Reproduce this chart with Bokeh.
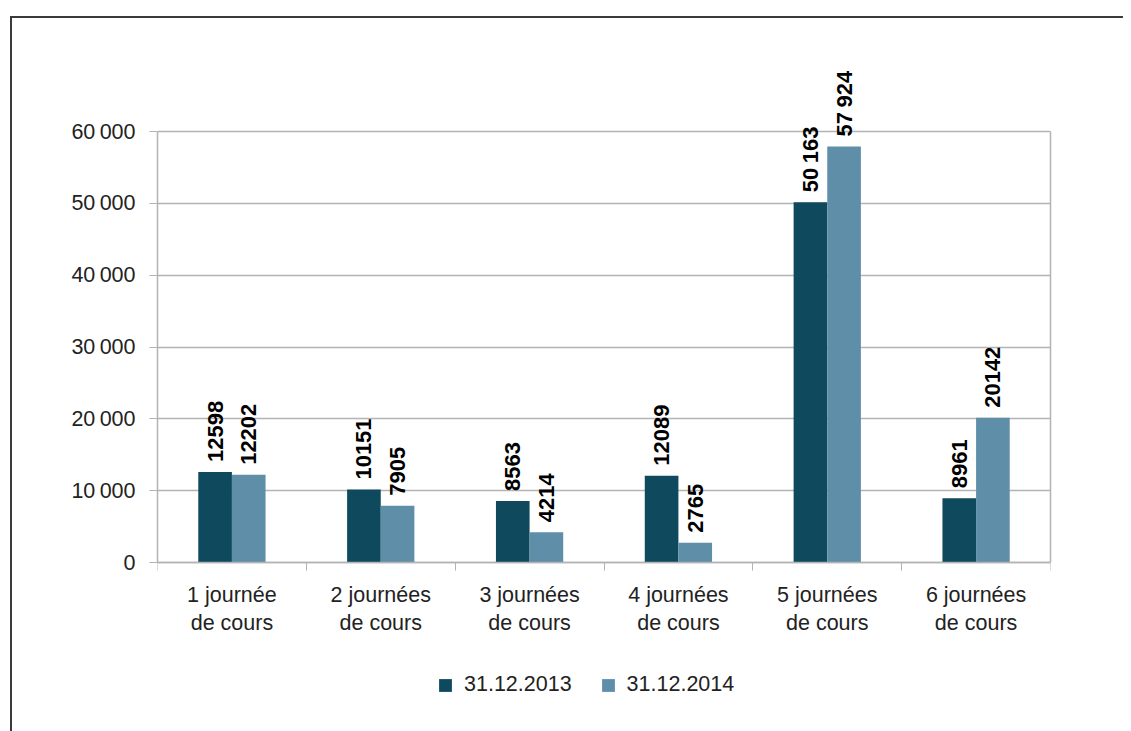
import numpy as np
from bokeh.plotting import figure
from bokeh.models import Range1d, FixedTicker, Legend, LegendItem, ColumnDataSource, LabelSet, LinearAxis
from bokeh.core.properties import value
from bokeh.embed import file_html
from bokeh.resources import INLINE

# ---- data ----
categories = ["1 journée\nde cours", "2 journées\nde cours", "3 journées\nde cours",
              "4 journées\nde cours", "5 journées\nde cours", "6 journées\nde cours"]
series_names = ["31.12.2013", "31.12.2014"]
values_2013 = [12598, 10151, 8563, 12089, 50163, 8961]
values_2014 = [12202, 7905, 4214, 2765, 57924, 20142]
labels_2013 = ["12598", "10151", "8563", "12089", "50\u2009163", "8961"]
labels_2014 = ["12202", "7905", "4214", "2765", "57\u2009924", "20142"]
y_ticks = [0, 10000, 20000, 30000, 40000, 50000, 60000]
y_tick_labels = ["0", "10\u2009000", "20\u2009000", "30\u2009000", "40\u2009000", "50\u2009000", "60\u2009000"]

DARK = "#0E495E"
LIGHT = "#5F8EA8"
GRID = "#B3B3B3"
TXT = "#222222"
FONT = "Liberation Sans"

# ---- layout (pixels) ----
y_max = y_ticks[-1]
plot_h = 431            # pixels from 0 to y_max
above_px = 72           # frame room above y_max for the value labels
below_px = 172          # frame room below 0 for category labels and legend
frame_h = plot_h + above_px + below_px
unit = y_max / plot_h   # data units per pixel
y_start = -below_px * unit
y_end = y_max + above_px * unit

centers = np.arange(len(categories)) + 0.5
bw = 0.226
off = 0.113

p = figure(frame_width=893, frame_height=frame_h,
           min_border_left=145, min_border_top=41, min_border_right=73, min_border_bottom=0,
           x_range=Range1d(0, len(categories)), y_range=Range1d(y_start, y_end),
           output_backend="svg", toolbar_location=None)
p.styles = {"margin-top": "16px", "margin-left": "10px",
            "border-top": "2px solid #3a3a3a", "border-left": "2px solid #3a3a3a"}

src13 = ColumnDataSource(dict(x=centers - off, top=values_2013, lab=labels_2013))
src14 = ColumnDataSource(dict(x=centers + off, top=values_2014, lab=labels_2014))

r1 = p.vbar(x="x", top="top", width=bw, bottom=0, source=src13,
            fill_color=DARK, line_color=DARK, line_width=0)
r2 = p.vbar(x="x", top="top", width=bw, bottom=0, source=src14,
            fill_color=LIGHT, line_color=LIGHT, line_width=0)

for src in (src13, src14):
    p.add_layout(LabelSet(x="x", y="top", text="lab", source=src, angle=np.pi / 2,
                          text_align="left", text_baseline="middle", y_offset=10,
                          text_font=value(FONT), text_font_style="bold",
                          text_font_size="22px", text_color="black"))

# x axis drawn at y = 0
p.xaxis.fixed_location = 0
p.xaxis.ticker = FixedTicker(ticks=list(centers), minor_ticks=list(range(len(categories) + 1)))
p.xaxis.major_label_overrides = {float(c): cat for c, cat in zip(centers, categories)}
p.xaxis.major_tick_line_color = None
p.xaxis.major_tick_out = 0
p.xaxis.major_tick_in = 0
p.xaxis.minor_tick_line_color = GRID
p.xaxis.minor_tick_out = 8
p.xaxis.minor_tick_in = 0
p.xaxis.major_label_standoff = 12

p.yaxis.ticker = FixedTicker(ticks=y_ticks)
p.yaxis.bounds = (0, y_max)
p.yaxis.major_label_overrides = {t: s for t, s in zip(y_ticks, y_tick_labels)}
p.yaxis.major_tick_out = 8
p.yaxis.major_tick_in = 0
p.yaxis.major_tick_line_color = GRID
p.yaxis.minor_tick_line_color = None
p.yaxis.major_label_standoff = 14

for ax in (p.xaxis, p.yaxis):
    ax.axis_line_color = GRID
    ax.axis_line_width = 1.5
    ax.major_label_text_font = FONT
    ax.major_label_text_font_size = "21.5px"
    ax.major_label_text_color = TXT

# right border of the plot area
right_ax = LinearAxis(ticker=FixedTicker(ticks=[]), bounds=(0, y_max),
                      axis_line_color=GRID, axis_line_width=1.5,
                      major_tick_line_color=None, minor_tick_line_color=None)
p.add_layout(right_ax, "right")

p.xgrid.visible = False
p.ygrid.ticker = FixedTicker(ticks=y_ticks)
p.ygrid.grid_line_color = GRID
p.ygrid.grid_line_width = 1.5

p.outline_line_color = None
p.background_fill_color = "white"
p.border_fill_color = "white"

legend = Legend(items=[LegendItem(label=series_names[0], renderers=[r1]),
                       LegendItem(label=series_names[1], renderers=[r2])],
                orientation="horizontal", location=(280, below_px - 135),
                glyph_width=16, glyph_height=16, label_standoff=11, spacing=28,
                label_text_font=FONT, label_text_font_size="21.5px", label_text_color=TXT,
                border_line_color=None, background_fill_alpha=0, padding=0, margin=0)
p.add_layout(legend, "center")

open("out.html", "w").write(file_html(p, INLINE))
